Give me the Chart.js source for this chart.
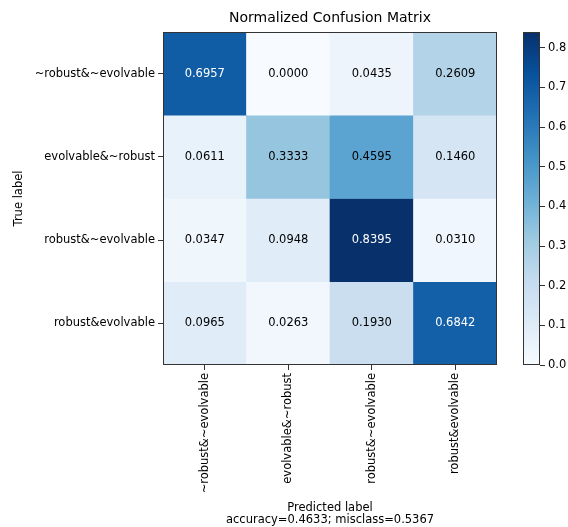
<!DOCTYPE html>
<html>
<head>
<meta charset="utf-8">
<title>Normalized Confusion Matrix</title>
<script src="https://cdn.jsdelivr.net/npm/chart.js@4/dist/chart.umd.min.js"></script>
<style>
  html, body { margin: 0; padding: 0; background: #ffffff; }
  #wrap { position: relative; width: 568px; height: 527px; }
  #wrap canvas { position: absolute; left: 0; top: 0; }
</style>
</head>
<body>
<div id="wrap">
  <canvas id="matrix" width="568" height="527"></canvas>
  <canvas id="colorbar" width="568" height="527"></canvas>
</div>
<script>
// Class names (true labels on rows, predicted labels on columns)
const classLabels = ['~robust&~evolvable', 'evolvable&~robust', 'robust&~evolvable', 'robust&evolvable'];

// Normalized confusion matrix, one array per true-label row
const rowRobustNotEvolvableNot = [0.6957, 0.0000, 0.0435, 0.2609];
const rowEvolvableNotRobust    = [0.0611, 0.3333, 0.4595, 0.1460];
const rowRobustNotEvolvable    = [0.0347, 0.0948, 0.8395, 0.0310];
const rowRobustEvolvable       = [0.0965, 0.0263, 0.1930, 0.6842];
const matrixRows = [rowRobustNotEvolvableNot, rowEvolvableNotRobust, rowRobustNotEvolvable, rowRobustEvolvable];

// Colorbar tick values
const colorbarTicks = [0.0, 0.1, 0.2, 0.3, 0.4, 0.5, 0.6, 0.7, 0.8];

// Summary scores shown under the x axis
const accuracy = 0.4633;
const misclass = 0.5367;

const vmax = Math.max(...matrixRows.flat());
const textThreshold = vmax / 1.5;

// "Blues" sequential colormap
const bluesStops = ['#f7fbff', '#deebf7', '#c6dbef', '#9ecae1', '#6baed6', '#4292c6', '#2171b5', '#08519c', '#08306b'];
function hexToRgb(h) {
  return [parseInt(h.slice(1, 3), 16), parseInt(h.slice(3, 5), 16), parseInt(h.slice(5, 7), 16)];
}
function blues(t) {
  t = Math.max(0, Math.min(1, t));
  const pos = t * (bluesStops.length - 1);
  const i = Math.min(Math.floor(pos), bluesStops.length - 2);
  const f = pos - i;
  const a = hexToRgb(bluesStops[i]), b = hexToRgb(bluesStops[i + 1]);
  const c = a.map((v, k) => Math.round(v + (b[k] - v) * f));
  return `rgb(${c[0]},${c[1]},${c[2]})`;
}

Chart.defaults.font.family = "'DejaVu Sans', sans-serif";
Chart.defaults.color = '#000000';

const frameColor = '#333333';
const tickFontSize = 11.5;

// Frame around the plotting area
const framePlugin = {
  id: 'frame',
  afterDatasetsDraw(chart) {
    const { ctx, chartArea: a } = chart;
    ctx.save();
    ctx.strokeStyle = frameColor;
    ctx.lineWidth = 1;
    ctx.strokeRect(Math.round(a.left) + 0.5, Math.round(a.top) + 0.5,
                   Math.round(a.right - a.left) - 1, Math.round(a.bottom - a.top) - 1);
    ctx.restore();
  }
};

// Value text in every cell plus the title above the matrix
const cellTextPlugin = {
  id: 'cellText',
  afterDatasetsDraw(chart) {
    const { ctx, chartArea: a } = chart;
    ctx.save();
    ctx.font = `11.5px 'DejaVu Sans', sans-serif`;
    ctx.textAlign = 'center';
    ctx.textBaseline = 'middle';
    chart.data.datasets.forEach((ds, r) => {
      const meta = chart.getDatasetMeta(r);
      meta.data.forEach((el, c) => {
        const v = matrixRows[r][c];
        ctx.fillStyle = v > textThreshold ? '#ffffff' : '#000000';
        ctx.fillText(v.toFixed(4), el.x, (el.y + el.base) / 2);
      });
    });
    ctx.fillStyle = '#000000';
    ctx.font = `14px 'DejaVu Sans', sans-serif`;
    ctx.textBaseline = 'middle';
    ctx.fillText('Normalized Confusion Matrix', (a.left + a.right) / 2, 18);
    ctx.restore();
  }
};

const matrixDatasets = matrixRows.map((row, r) => ({
  label: classLabels[r],
  data: row.map(() => [r - 0.5, r + 0.5]),
  backgroundColor: row.map(v => blues(v / vmax)),
  borderWidth: 0,
  barPercentage: 1,
  categoryPercentage: 1,
  grouped: false
}));

new Chart(document.getElementById('matrix'), {
  type: 'bar',
  data: { labels: classLabels, datasets: matrixDatasets },
  options: {
    responsive: false,
    devicePixelRatio: 1,
    animation: false,
    layout: { padding: { left: 0, top: 32, right: 71, bottom: 0 } },
    plugins: { legend: { display: false }, tooltip: { enabled: false }, title: { display: false } },
    scales: {
      x: {
        type: 'category',
        offset: true,
        grid: { display: true, offset: false, drawOnChartArea: false, drawTicks: true, tickLength: 5, color: frameColor },
        border: { display: false },
        ticks: { font: { size: tickFontSize }, color: '#000', minRotation: 90, maxRotation: 90, autoSkip: false, padding: 3 },
        title: {
          display: true,
          text: ['Predicted label', `accuracy=${accuracy.toFixed(4)}; misclass=${misclass.toFixed(4)}`],
          font: { size: tickFontSize, lineHeight: 1.05 },
          color: '#000',
          padding: { top: 0, bottom: 1 }
        },
        afterFit(scale) { scale.height = 162; }
      },
      y: {
        type: 'linear',
        min: -0.5,
        max: 3.5,
        reverse: true,
        grid: { display: true, drawOnChartArea: false, drawTicks: true, tickLength: 5, color: frameColor },
        border: { display: false },
        afterBuildTicks(scale) { scale.ticks = classLabels.map((_, i) => ({ value: i })); },
        ticks: { font: { size: tickFontSize }, color: '#000', padding: 3, callback: v => classLabels[v] },
        title: {
          display: true,
          text: 'True label',
          font: { size: tickFontSize, lineHeight: 1.2 },
          color: '#000',
          padding: { top: 12, bottom: 0 }
        },
        afterFit(scale) { scale.width = 163; }
      }
    }
  },
  plugins: [cellTextPlugin, framePlugin]
});

// Colorbar: one bar spanning 0..vmax filled with the same colormap
function colorbarFill(context) {
  const chart = context.chart;
  const yScale = chart.scales.y;
  if (!chart.chartArea || !yScale) return bluesStops[4];
  const g = chart.ctx.createLinearGradient(0, yScale.getPixelForValue(0), 0, yScale.getPixelForValue(vmax));
  bluesStops.forEach((c, i) => g.addColorStop(i / (bluesStops.length - 1), c));
  return g;
}

new Chart(document.getElementById('colorbar'), {
  type: 'bar',
  data: {
    labels: [''],
    datasets: [{ data: [[0, vmax]], backgroundColor: colorbarFill, borderWidth: 0, barPercentage: 1, categoryPercentage: 1 }]
  },
  options: {
    responsive: false,
    devicePixelRatio: 1,
    animation: false,
    layout: { padding: { left: 523, top: 32, right: 0, bottom: 162 } },
    plugins: { legend: { display: false }, tooltip: { enabled: false } },
    scales: {
      x: { display: false },
      y: {
        position: 'right',
        min: 0,
        max: vmax,
        grid: { display: true, drawOnChartArea: false, drawTicks: true, tickLength: 5, color: frameColor },
        border: { display: false },
        afterBuildTicks(scale) { scale.ticks = colorbarTicks.map(v => ({ value: v })); },
        ticks: { font: { size: tickFontSize }, color: '#000', padding: 3, callback: v => v.toFixed(1) },
        afterFit(scale) { scale.width = 28; }
      }
    }
  },
  plugins: [framePlugin]
});
</script>
</body>
</html>
